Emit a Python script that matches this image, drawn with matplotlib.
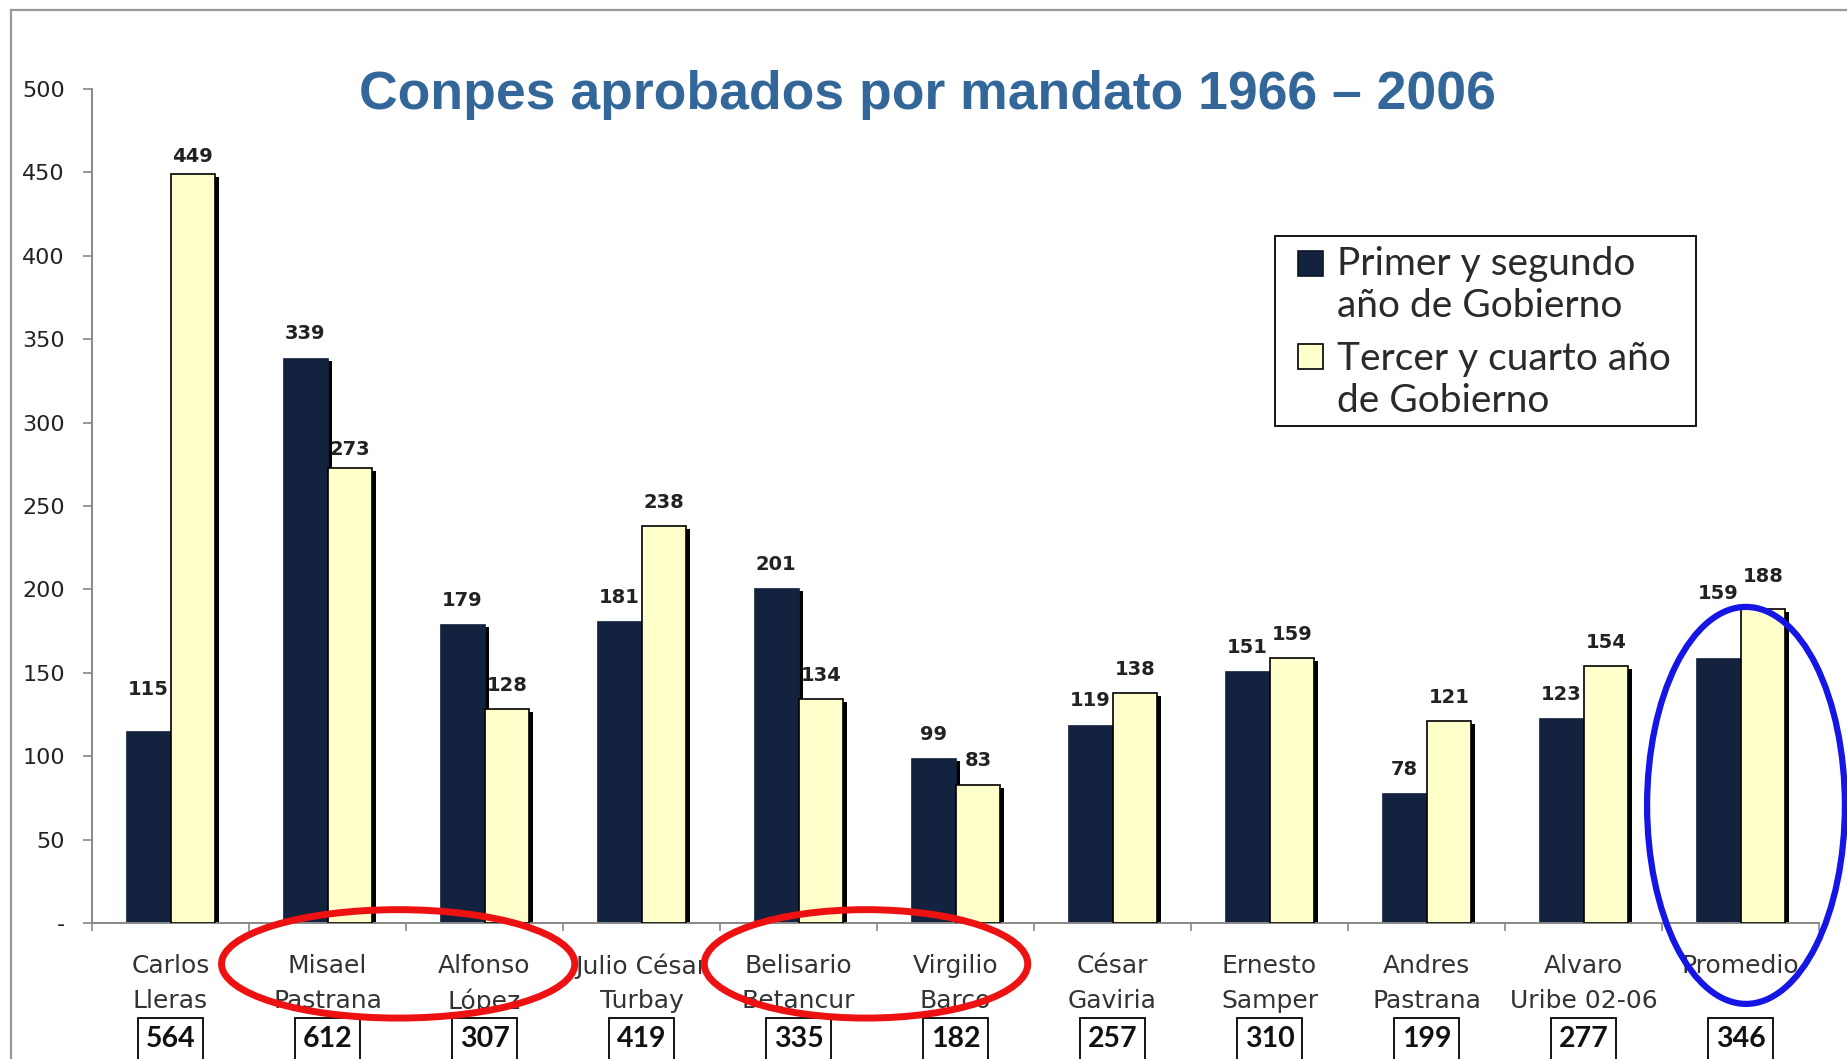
import matplotlib
matplotlib.use("Agg")
import matplotlib.pyplot as plt
import matplotlib.transforms as mtransforms
from matplotlib.patches import Ellipse, Rectangle
from matplotlib.lines import Line2D
import numpy as np

# ---------------- data ----------------
categories = ["Carlos\nLleras", "Misael\nPastrana", "Alfonso\nLópez", "Julio César\nTurbay",
              "Belisario\nBetancur", "Virgilio\nBarco", "César\nGaviria", "Ernesto\nSamper",
              "Andres\nPastrana", "Alvaro\nUribe 02-06", "Promedio"]
primer_segundo = [115, 339, 179, 181, 201, 99, 119, 151, 78, 123, 159]
tercer_cuarto = [449, 273, 128, 238, 134, 83, 138, 159, 121, 154, 188]
totales = [564, 612, 307, 419, 335, 182, 257, 310, 199, 277, 346]
y_ticks = [0, 50, 100, 150, 200, 250, 300, 350, 400, 450, 500]
y_tick_labels = ["-", "50", "100", "150", "200", "250", "300", "350", "400", "450", "500"]
series_labels = ["Primer y segundo\naño de Gobierno", "Tercer y cuarto año\nde Gobierno"]
title = "Conpes aprobados por mandato 1966 – 2006"

# label offsets (points above bar top)
off_dark = [30, 17, 17, 17, 17, 17, 17, 17, 17, 17, 46]
off_light = [13, 13, 17, 17, 17, 17, 17, 17, 17, 17, 24]

W, H = 1847, 1059
DARK = "#13233F"
LIGHT = "#FFFFCC"

fig = plt.figure(figsize=(W / 100, H / 100), dpi=100)
fig.patch.set_facecolor("white")


def fx(px):
    return px / W


def fy(py):
    return 1 - py / H


ax = fig.add_axes([fx(92), fy(923), fx(1819) - fx(92), fy(89) - fy(923)])
x = np.arange(len(categories))
w = 0.285

shadow = mtransforms.offset_copy(ax.transData, fig=fig, x=4, y=-3, units="dots")
for xs, vals in ((x - w / 2, primer_segundo), (x + w / 2, tercer_cuarto)):
    ax.bar(xs, vals, width=w, color="black", edgecolor="none", transform=shadow, zorder=1)

ax.bar(x - w / 2, primer_segundo, width=w, color=DARK, edgecolor=DARK, linewidth=0.5, zorder=2)
ax.bar(x + w / 2, tercer_cuarto, width=w, color=LIGHT, edgecolor="black", linewidth=1.2, zorder=3)

for xi, v, o in zip(x - w / 2, primer_segundo, off_dark):
    ax.annotate(str(v), (xi, v), xytext=(0, o), textcoords="offset points", ha="center", va="center",
                fontsize=14, fontweight="bold", color="#222222", family="DejaVu Sans")
for xi, v, o in zip(x + w / 2, tercer_cuarto, off_light):
    ax.annotate(str(v), (xi, v), xytext=(0, o), textcoords="offset points", ha="center", va="center",
                fontsize=14, fontweight="bold", color="#222222", family="DejaVu Sans")

ax.set_xlim(-0.5, len(categories) - 0.5)
ax.set_ylim(0, 500)
ax.set_yticks(y_ticks)
ax.set_yticklabels(y_tick_labels, fontsize=16, color="#222222", family="DejaVu Sans")
ax.tick_params(axis="y", direction="out", length=6.5, width=1.2, color="#888888", pad=13)
ax.set_xticks(np.arange(-0.5, len(categories) + 0.5, 1))
ax.set_xticklabels([])
ax.tick_params(axis="x", direction="out", length=6, width=1.2, color="#888888")
for s in ("top", "right"):
    ax.spines[s].set_visible(False)
for s in ("left", "bottom"):
    ax.spines[s].set_color("#888888")
    ax.spines[s].set_linewidth(1.4)
ax.spines["left"].set_bounds(0, 500)

tr = ax.get_xaxis_transform()
line_y = [-0.0515, -0.0935]
for xi, lab in zip(x, categories):
    for ly, part in zip(line_y, lab.split("\n")):
        ax.text(xi, ly, part, transform=tr, ha="center", va="center", fontsize=18,
                color="#333333", family="DejaVu Sans")
for xi, t in zip(x, totales):
    ax.text(xi, -0.139, str(t), transform=tr, ha="center", va="center", fontsize=20.5,
            fontweight="bold", color="#111111", family="Lato",
            bbox=dict(boxstyle="square,pad=0.28", facecolor="white", edgecolor="black", linewidth=1.3))

# highlight ellipses
for cx, cy, ew, eh, col, lw in ((1.45, -24.5, 2.25, 65, "#EE1111", 5),
                                (4.43, -24.5, 2.06, 65, "#EE1111", 5),
                                (10.035, 70.5, 1.26, 238, "#1515E6", 4.5)):
    ax.add_patch(Ellipse((cx, cy), ew, eh, fill=False, edgecolor=col, linewidth=lw,
                         clip_on=False, zorder=6))

# title
fig.text(fx(927), fy(95), title, ha="center", va="center", fontsize=38.5, fontweight="bold",
         color="#336699", family="Liberation Sans")

# legend (manual, to align squares with first line)
fig.add_artist(Rectangle((fx(1275), fy(426)), fx(1696) - fx(1275), fy(236) - fy(426),
                         transform=fig.transFigure, fill=False, edgecolor="black", linewidth=1.3))
sq = 25
for (cy, col, ec) in ((263, DARK, "#0A1428"), (357, LIGHT, "black")):
    fig.add_artist(Rectangle((fx(1298), fy(cy + sq / 2)), fx(sq), sq / H, transform=fig.transFigure,
                             facecolor=col, edgecolor=ec, linewidth=1.2))
for (ty, lab) in ((285, series_labels[0]), (380, series_labels[1])):
    fig.text(fx(1337), fy(ty), lab, ha="left", va="center", fontsize=28, color="#2a2a2a",
             family="Lato", linespacing=1.22)

# slide frame lines
fig.add_artist(Line2D([fx(11), fx(11)], [0, fy(10)], transform=fig.transFigure, color="#999999", linewidth=1.6))
fig.add_artist(Line2D([fx(11), 1], [fy(10), fy(10)], transform=fig.transFigure, color="#999999", linewidth=1.6))

fig.savefig("out.png", dpi=100, facecolor="white")
